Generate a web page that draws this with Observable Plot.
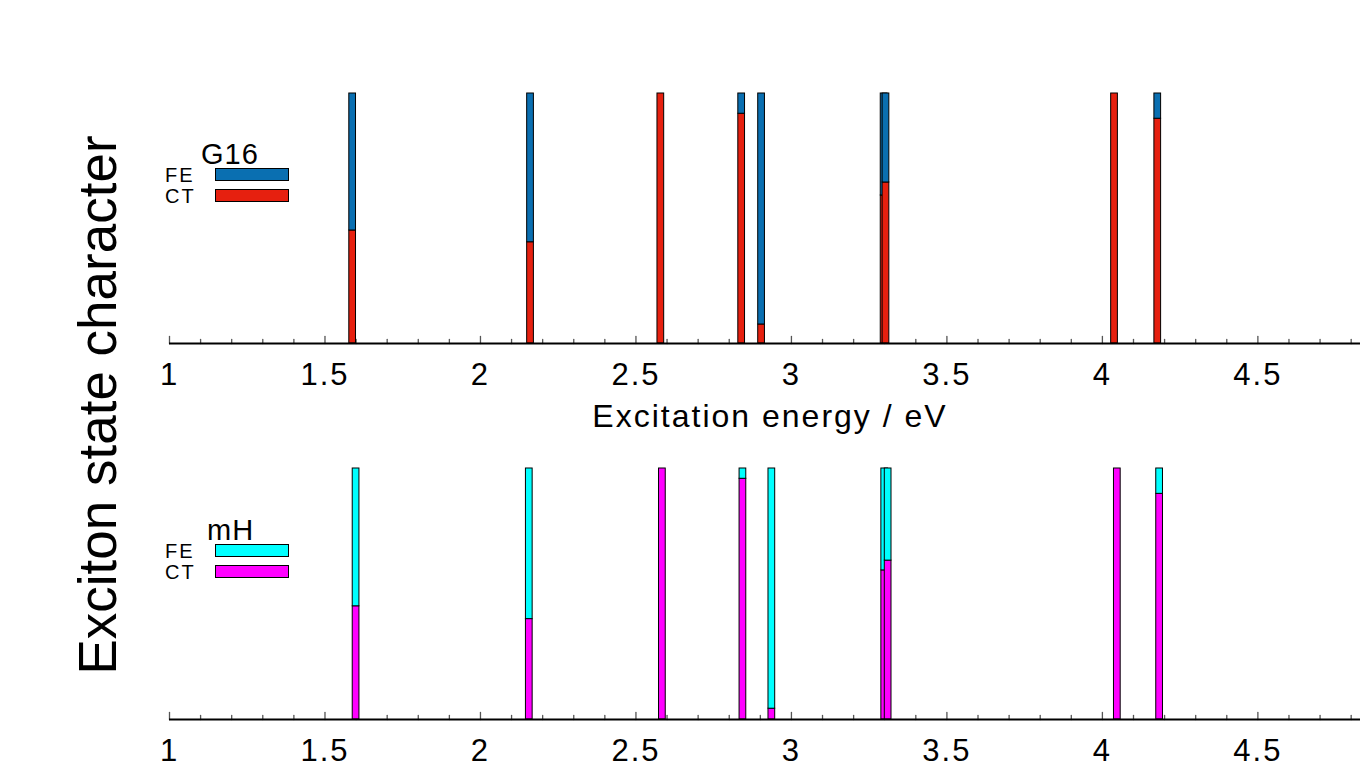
<!DOCTYPE html>
<html>
<head>
<meta charset="utf-8">
<script src="https://cdn.jsdelivr.net/npm/d3@7"></script>
<script src="https://cdn.jsdelivr.net/npm/@observablehq/plot@0.6"></script>
<style>
  body { margin: 0; background: #fff; }
  #wrap { position: relative; width: 1360px; height: 782px; overflow: hidden; font-family: "Liberation Sans", Arial, sans-serif; color: #000; }
  #wrap svg text { letter-spacing: 2px; }
  .abs { position: absolute; }
  .lgTitle { font-size: 29px; line-height: 1; letter-spacing: 1px; }
  .lgKey { font-size: 20px; line-height: 1; letter-spacing: 2px; }
  .sw { border: 1px solid #000; box-sizing: border-box; width: 74px; height: 13px; }
  #ylabel { left: 97px; top: 405px; font-size: 53px; white-space: nowrap; transform: translate(-50%, -50%) rotate(-90deg); line-height: 1; }
</style>
</head>
<body>
<div id="wrap">
  <div id="ylabel" class="abs">Exciton state character</div>
  <div id="top" class="abs" style="left:0;top:0"></div>
  <div id="bottom" class="abs" style="left:0;top:440px"></div>
</div>
<script>
// ---- data ----
const componentNames = ["FE", "CT"];
const g16Energies = [1.589, 2.161, 2.580, 2.840, 2.904, 3.298, 3.304, 4.039, 4.178];
const g16CT       = [0.452, 0.405, 1.000, 0.919, 0.076, 0.592, 0.644, 1.000, 0.899];
const mhEnergies  = [1.600, 2.157, 2.585, 2.844, 2.937, 3.300, 3.311, 4.048, 4.184];
const mhCT        = [0.451, 0.400, 1.000, 0.959, 0.043, 0.594, 0.633, 1.000, 0.899];
const majorTicks  = [1, 1.5, 2, 2.5, 3, 3.5, 4, 4.5];
const g16Colors = ["#0a6fb1", "#e6200f"];
const mhColors  = ["#00ffff", "#ff00ff"];

const xDomain = [1, 4.83];
const halfWidth = 0.0108;

function rowsFor(energies, ct) {
  const rows = [];
  energies.forEach((e, i) => {
    rows.push({comp: "CT", x1: e - halfWidth, x2: e + halfWidth, y1: 0, y2: ct[i]});
    if (ct[i] < 1) rows.push({comp: "FE", x1: e - halfWidth, x2: e + halfWidth, y1: ct[i], y2: 1});
  });
  return rows;
}

const minorTicks = d3.range(10, 49).map(i => i / 10).filter(v => !majorTicks.some(m => Math.abs(m - v) < 1e-9));

const tickShape = {draw(context, l) { context.moveTo(0, 0); context.lineTo(0, -l); }};

function panel({energies, ct, colors, height, marginTop, innerH, xLabel}) {
  const marks = [
    Plot.vector(minorTicks, {x: d => d, frameAnchor: "bottom", length: 4, rotate: 0, anchor: "start", shape: tickShape, stroke: "#555", strokeWidth: 1.3}),
    Plot.vector(majorTicks, {x: d => d, frameAnchor: "bottom", length: 7, rotate: 0, anchor: "start", shape: tickShape, stroke: "#555", strokeWidth: 1.3}),
    Plot.rectY(rowsFor(energies, ct), {x1: "x1", x2: "x2", y1: "y1", y2: "y2", fill: "comp", stroke: "#000", strokeWidth: 1}),
    Plot.ruleY([0], {stroke: "#000", strokeWidth: 2}),
    Plot.axisX({ticks: majorTicks, tickSize: 0, tickPadding: 19, fontSize: 31, tickFormat: d => String(d), label: null})
  ];
  if (xLabel) marks.push(Plot.text([xLabel], {frameAnchor: "bottom", dy: 83, dx: 5, fontSize: 32, fill: "#000"}));
  return Plot.plot({
    width: 1360,
    height,
    marginLeft: 169,
    marginRight: 0,
    marginTop,
    marginBottom: height - marginTop - innerH,
    style: {fontFamily: "'Liberation Sans', Arial, sans-serif", color: "#000", background: "transparent", overflow: "visible"},
    x: {domain: xDomain},
    y: {domain: [0, 1], axis: null},
    color: {domain: componentNames, range: colors},
    marks
  });
}

document.getElementById("top").append(panel({energies: g16Energies, ct: g16CT, colors: g16Colors, height: 440, marginTop: 93, innerH: 250, xLabel: "Excitation energy / eV"}));
document.getElementById("bottom").append(panel({energies: mhEnergies, ct: mhCT, colors: mhColors, height: 342, marginTop: 28, innerH: 251, xLabel: null}));

// ---- legends ----
function legend(title, colors, titleTop, titleLeft, swTop) {
  const wrap = document.getElementById("wrap");
  const t = document.createElement("div");
  t.className = "abs lgTitle"; t.textContent = title;
  t.style.left = titleLeft + "px"; t.style.top = titleTop + "px";
  wrap.append(t);
  componentNames.forEach((name, i) => {
    const k = document.createElement("div");
    k.className = "abs lgKey"; k.textContent = name;
    k.style.left = "165px"; k.style.top = (swTop + i * 21 - 3) + "px";
    wrap.append(k);
    const s = document.createElement("div");
    s.className = "abs sw"; s.style.background = colors[i];
    s.style.left = "215px"; s.style.top = (swTop + i * 21) + "px";
    wrap.append(s);
  });
}
legend("G16", g16Colors, 140, 201, 168);
legend("mH", mhColors, 516, 207, 544);
</script>
</body>
</html>
